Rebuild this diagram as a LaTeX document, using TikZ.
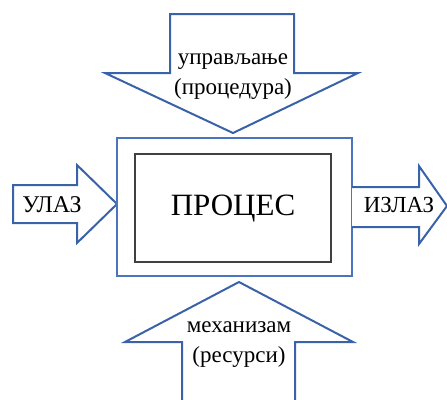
\documentclass[tikz,border=0pt]{standalone}
\usepackage{fontspec}
\setmainfont{Liberation Serif}
\definecolor{arrowblue}{HTML}{3A62A8}
\definecolor{boxblue}{HTML}{4A74C0}
\definecolor{innergray}{HTML}{404040}
\tikzset{
  arrowshape/.style={draw=arrowblue, line width=2pt, fill=white, line join=miter},
  outerbox/.style={draw=boxblue, line width=2.5pt, fill=white},
  innerbox/.style={draw=innergray, line width=1.4pt},
  lbl/.style={font=\fontsize{23}{25}\selectfont, inner sep=0pt, align=center},
  bigl/.style={font=\fontsize{31}{34}\selectfont, inner sep=0pt}
}
\begin{document}
\begin{tikzpicture}[x=1pt,y=-1pt]
\useasboundingbox (0,0) rectangle (447,399);
% top arrow
\draw[arrowshape] (170,14) -- (294,14) -- (294,73) -- (358,73) -- (233,133) -- (105,73) -- (170,73) -- cycle;
% bottom arrow
\draw[arrowshape] (182,405) -- (182,342) -- (125,342) -- (239,282) -- (353,342) -- (295,342) -- (295,405);
% left arrow
\draw[arrowshape] (13,185) -- (77,185) -- (77,165) -- (117,204) -- (77,243) -- (77,223) -- (13,223) -- cycle;
% outer box
\draw[outerbox] (117,138) rectangle (352,276);
% right arrow
\draw[arrowshape] (352,187) -- (419,187) -- (419,166) -- (447,206) -- (419,244) -- (419,227) -- (352,227);
% inner box
\draw[innerbox] (135,154) rectangle (331,262);
\node[bigl] (proc) at (233,209) {ПРОЦЕС};
\node[lbl] (upr) at (233,62) {управљање};
\node[lbl] (proced) at (233,89) {(процедура)};
\node[lbl] (meh) at (239,327) {механизам};
\node[lbl] (res) at (239,357) {(ресурси)};
\node[lbl, font=\fontsize{24}{26}\selectfont] (ulaz) at (52,205) {УЛАЗ};
\node[lbl] (izlaz) at (399,205) {ИЗЛАЗ};
\end{tikzpicture}
\end{document}
